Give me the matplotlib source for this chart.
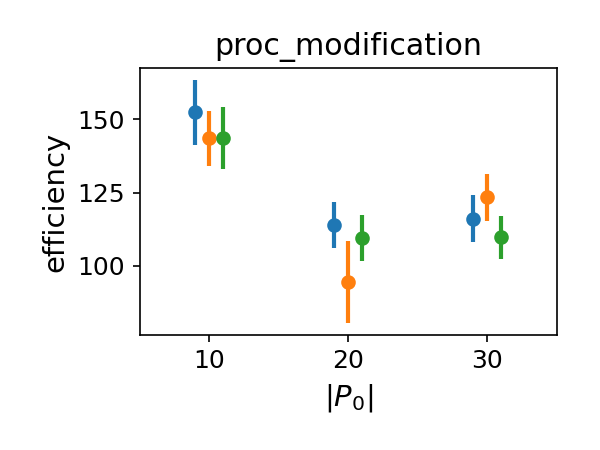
import matplotlib
matplotlib.use("Agg")
import matplotlib.pyplot as plt

# 데이터
p0 = [10, 20, 30]
offsets = [-1, 0, 1]
eff_blue = [152.4, 113.9, 116.1]
err_blue = [11.0, 7.8, 8.0]
eff_orange = [143.5, 94.5, 123.4]
err_orange = [9.5, 13.9, 8.1]
eff_green = [143.7, 109.5, 109.8]
err_green = [10.5, 7.9, 7.3]

series = [(eff_blue, err_blue), (eff_orange, err_orange), (eff_green, err_green)]

plt.rcParams['font.size'] = 12
fig = plt.figure(figsize=(4, 3), dpi=150)
ax = fig.add_axes([0.233, 0.256, 0.695, 0.593])

for off, (vals, errs) in zip(offsets, series):
    xs = [x + off for x in p0]
    ax.errorbar(xs, vals, yerr=errs, fmt='o', lw=2, markersize=6)

ax.set_xlim(5, 35)
ax.set_xticks(p0)
ax.set_yticks([100, 125, 150])
ax.set_title("proc_modification", fontsize=14.4)
ax.set_xlabel("$|P_0|$", fontsize=14)
ax.set_ylabel("efficiency", fontsize=14)

fig.savefig("out.png", dpi=150)
